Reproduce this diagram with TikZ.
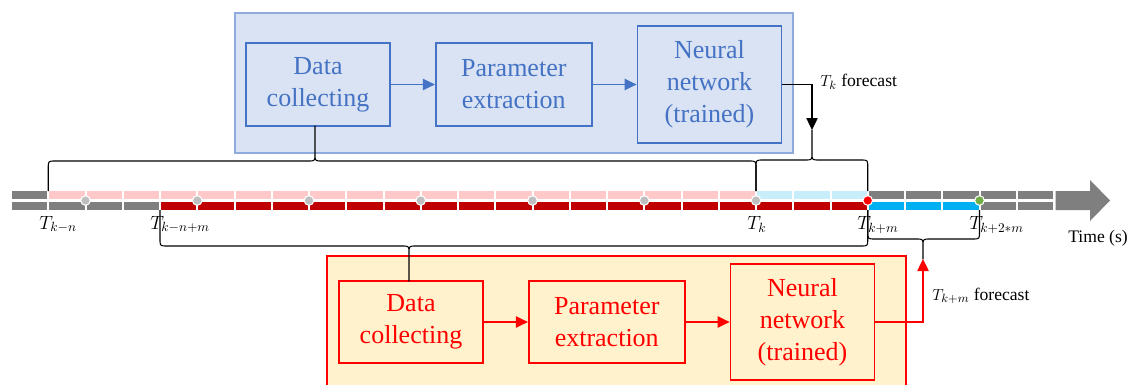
\documentclass[tikz,border=0pt]{standalone}
\usepackage{fontspec}
\setmainfont{Liberation Serif}
\usetikzlibrary{arrows.meta, positioning}

\definecolor{nnblue}{HTML}{4472C4}
\definecolor{frameblue}{HTML}{8FAADC}
\definecolor{fillblue}{HTML}{DAE3F3}
\definecolor{fillyellow}{HTML}{FFF2CC}
\definecolor{tlgray}{HTML}{7F7F7F}
\definecolor{tlpink}{HTML}{FFC9C9}
\definecolor{tlsky}{HTML}{C9EEFB}
\definecolor{tldarkred}{HTML}{C00000}
\definecolor{tlblue}{HTML}{00B0F0}
\definecolor{dotgray}{HTML}{BFBFBF}
\definecolor{dotgreen}{HTML}{70AD47}

% brace: left x, right x, tip x, end y, line y, tip y
\newcommand{\tlbrace}[6]{%
  \pgfmathsetmacro{\bya}{#5+7*sign(#4-#5)}%
  \pgfmathsetmacro{\byb}{#5-7*sign(#4-#5)}%
  \draw[brace line] (#1,#4) -- (#1,\bya) .. controls (#1,#5) .. (#1+7,#5)
    -- (#3-7,#5) .. controls (#3,#5) .. (#3,\byb) -- (#3,#6)
    -- (#3,\byb) .. controls (#3,#5) .. (#3+7,#5)
    -- (#2-7,#5) .. controls (#2,#5) .. (#2,\bya) -- (#2,#4);}

\begin{document}
\begin{tikzpicture}[
    x=0.75pt, y=-0.75pt,
    node distance=33pt,
    bbox/.style={draw=nnblue, fill=fillblue, text=nnblue, line width=1.3pt,
      align=center, minimum width=108pt, minimum height=62pt, inner sep=2pt,
      font=\fontsize{19.5}{24}\selectfont},
    rbox/.style={bbox, draw=red, fill=fillyellow, text=red},
    barrow/.style={draw=nnblue, line width=1pt, -{Triangle[length=9pt, width=8.5pt]}},
    rarrow/.style={barrow, draw=red},
    farrow/.style={draw=black, line width=0.9pt, -{Triangle[length=9pt, width=8.5pt]}},
    brace line/.style={draw=black, line width=0.8pt, line join=round},
    tlabel/.style={anchor=base west, inner sep=0pt, font=\fontsize{13.2}{16}\selectfont},
    tmath/.style={tlabel, font=\fontsize{14}{16}\selectfont},
    tldot/.style={draw=white, line width=0.8pt}
]
\useasboundingbox (0,0) rectangle (1134,385);

% Frames
\draw[draw=frameblue, fill=fillblue, line width=1.1pt] (235,13) rectangle (793,153);
\draw[draw=red, fill=fillyellow, line width=1.3pt] (327,256) rectangle (906,400);

% Blue chain (T_k)
\node[bbox] (bdata) at (318,84.5) {Data\\collecting};
\node[bbox, minimum width=117pt, right=of bdata] (bparam) {Parameter\\extraction};
\node[bbox, minimum height=88pt, right=of bparam] (bnet) {Neural\\network\\(trained)};
\draw[barrow] (bdata) -- (bparam);
\draw[barrow] (bparam) -- (bnet);

% Red chain (T_{k+m})
\node[rbox] (rdata) at (411,322) {Data\\collecting};
\node[rbox, minimum width=117pt, right=of rdata] (rparam) {Parameter\\extraction};
\node[rbox, minimum height=87pt, right=of rparam] (rnet) {Neural\\network\\(trained)};
\draw[rarrow] (rdata) -- (rparam);
\draw[rarrow] (rparam) -- (rnet);

% Time line
\foreach \a/\b/\c in {0/0/tlgray, 1/19/tlpink, 20/22/tlsky, 23/27/tlgray}
  \foreach \i in {\a,...,\b}
    \fill[\c] ({12+37.25*\i},191) rectangle ++(35.25,8);
\foreach \a/\b/\c in {0/3/tlgray, 4/22/tldarkred, 23/25/tlblue, 26/27/tlgray}
  \foreach \i in {\a,...,\b}
    \fill[\c] ({12+37.25*\i},202) rectangle ++(35.25,8);
\fill[tlgray] (1055.5,191) -- (1090,191) -- (1090,180) -- (1110,200.5)
  -- (1090,221) -- (1090,210) -- (1055.5,210) -- cycle;

\foreach \j in {1,...,27}
  \coordinate (t\j) at ({12+37.25*\j-1},200.5);
\foreach \j in {2,5,...,20}
  \filldraw[tldot, fill=dotgray] (t\j) circle[radius=3.6pt];
\filldraw[tldot, fill=red] (t23) circle[radius=3.6pt];
\filldraw[tldot, fill=dotgreen] (t26) circle[radius=3.6pt];

% Time labels
\node[tmath] (lkn) at (39,229) {$T_{k-n}$};
\node[tmath] (lknm) at (150,229) {$T_{k-n+m}$};
\node[tmath] (lk) at (747,229.5) {$T_k$};
\node[tmath] (lkm) at (857,229.5) {$T_{k+m}$};
\node[tmath] (lk2m) at (969,229.5) {$T_{k+2*m}$};
\node[tlabel] (ltime) at (1068,242) {Time (s)};

% Braces
\tlbrace{48.25}{756}{315}{191}{161}{126}
\tlbrace{756}{867.75}{812}{191}{160}{130}
\tlbrace{160}{867.75}{409}{210}{246}{281}
\tlbrace{867.75}{979.5}{923}{210}{239}{259}

% Forecast outputs
\coordinate (ktip) at (812,130);
\draw[farrow] (bnet.east) -| (ktip);
\node[tlabel] (lkfc) at (820,87) {$T_k$ forecast};

\coordinate (kmtip) at (923,259);
\draw[rarrow] (rnet.east) -| (kmtip);
\node[tlabel] (lkmfc) at (932,300) {$T_{k+m}$ forecast};

\end{tikzpicture}
\end{document}
